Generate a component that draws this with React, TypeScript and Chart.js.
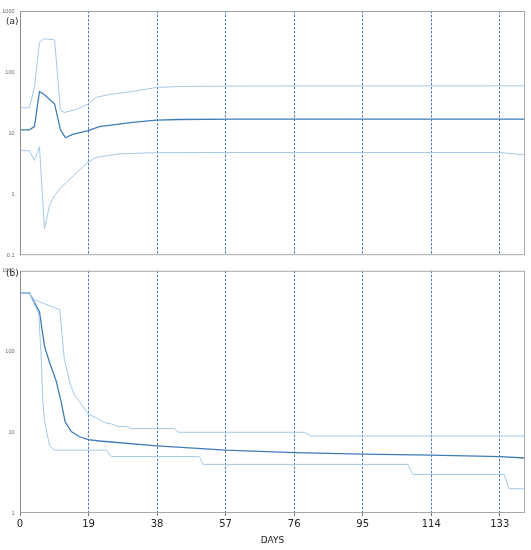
import React, { useEffect, useRef } from "react";
import { Chart, registerables } from "chart.js";

Chart.register(...registerables);

// ---------- data ----------
const xTickValues = [0, 19, 38, 57, 76, 95, 114, 133];
const xMax = 140;
const yTicksA = [0.1, 1, 10, 100, 1000];
const yTicksB = [1, 10, 100, 1000];
const xTitle = "DAYS";
const panelLabels = ["(a)", "(b)"];

// panel (a)
const upperADays = [0, 2.6, 4.0, 5.4, 6.8, 9.6, 11.2, 12.3, 15.6, 18.9, 21.1, 25, 31.2, 37.8, 44.2, 60, 140];
const upperAValues = [26, 26, 56, 308, 352, 335, 23.6, 21.7, 24.5, 30, 38.6, 43, 48, 56, 58, 59, 59.5];

const medianADays = [0, 2.6, 4.0, 5.4, 6.8, 9.6, 11.2, 12.6, 14.6, 18.9, 22, 31.2, 37.8, 44.2, 60, 140];
const medianAValues = [11.3, 11.3, 12.8, 48, 42.5, 30, 11.3, 8.4, 9.5, 11, 12.8, 15, 16.3, 16.7, 16.9, 16.9];

const lowerADays = [0, 2.6, 4.0, 5.4, 6.8, 8.2, 9.6, 11.2, 12.8, 15.6, 18.9, 21.1, 27.4, 37.8, 60, 133, 140];
const lowerAValues = [5.15, 5.15, 3.56, 5.97, 0.27, 0.655, 0.95, 1.24, 1.55, 2.23, 3.35, 4.0, 4.56, 4.79, 4.8, 4.8, 4.4];

// panel (b)
const upperBDays = [0, 2.6, 4.0, 11.0, 12.3, 13.9, 15.1, 18.9, 23.0, 23.9, 25.3, 27.1, 29.5, 30.8, 42.9, 43.8, 78.9, 80.6, 140];
const upperBValues = [531, 531, 437, 330, 80, 40, 29, 17, 13.6, 13, 12.7, 11.8, 11.8, 11.1, 11.1, 10, 10, 9, 9];

const medianBDays = [0, 2.6, 5.4, 6.8, 8.2, 10.0, 11.4, 12.5, 14.2, 16.5, 18.9, 22.1, 38, 57, 76, 95, 114, 133, 140];
const medianBValues = [531, 531, 309, 116, 73, 43.6, 23.8, 13.6, 10.2, 8.8, 8.1, 7.8, 6.8, 6.0, 5.6, 5.35, 5.2, 5.0, 4.8];

const lowerBDays = [0, 2.6, 5.2, 5.9, 6.3, 6.8, 8.2, 9.6, 23.9, 25.3, 49.7, 50.8, 107.5, 108.9, 134.2, 135.6, 140];
const lowerBValues = [531, 531, 295, 80, 26, 13.6, 6.76, 6, 6, 5, 5, 4, 4, 3, 3, 2, 2];

// ---------- styles ----------
const medianColor = "#3f7cb9";
const boundColor = "#a3c8e8";
const gridColor = "rgba(55,110,175,0.9)";
const frameColor = "#a8a8a8";
const axisColor = "#8a8a8a";
const fontFamily = "'DejaVu Sans', sans-serif";

function pts(d: number[], v: number[]) {
  return d.map((x, i) => ({ x, y: v[i] }));
}

function makeDatasets(up: any[], med: any[], low: any[]) {
  const base = { pointRadius: 0, tension: 0, fill: false };
  return [
    { ...base, data: up, borderColor: boundColor, borderWidth: 1 },
    { ...base, data: low, borderColor: boundColor, borderWidth: 1 },
    { ...base, data: med, borderColor: medianColor, borderWidth: 1.3 },
  ];
}

function framePlugin(label: string, labelY: number) {
  return {
    id: "frame-" + label,
    afterDraw(chart: any) {
      const { ctx, chartArea } = chart;
      const { left, right, top, bottom } = chartArea;
      ctx.save();
      ctx.lineWidth = 1;
      ctx.strokeStyle = frameColor;
      ctx.strokeRect(left + 0.5, top + 0.5, right - left - 1, bottom - top - 1);
      ctx.strokeStyle = axisColor;
      ctx.beginPath();
      ctx.moveTo(left + 0.5, top);
      ctx.lineTo(left + 0.5, bottom);
      ctx.stroke();
      ctx.fillStyle = "#222";
      ctx.font = "9px " + fontFamily;
      ctx.textBaseline = "middle";
      ctx.textAlign = "left";
      ctx.fillText(label, 6, labelY);
      ctx.restore();
    },
  };
}

function makeOptions(yMin: number, yTicks: number[], showX: boolean, padding: any) {
  return {
    responsive: false,
    maintainAspectRatio: false,
    animation: false,
    events: [],
    layout: { padding },
    plugins: { legend: { display: false }, tooltip: { enabled: false } },
    scales: {
      x: {
        type: "linear",
        min: 0,
        max: xMax,
        afterBuildTicks: (s: any) => {
          s.ticks = xTickValues.map((v) => ({ value: v }));
        },
        afterFit: (s: any) => {
          s.height = showX ? 37 : 0;
        },
        grid: {
          color: (c: any) => (c.tick && c.tick.value === 0 ? "rgba(0,0,0,0)" : gridColor),
          lineWidth: 1,
          drawTicks: showX,
          tickLength: 3,
          tickColor: "#777",
        },
        border: { display: false, dash: [2.5, 1.5] },
        ticks: {
          display: showX,
          padding: 2,
          autoSkip: false,
          maxRotation: 0,
          color: "#222",
          font: { family: fontFamily, size: 10 },
          callback: (v: any) => String(v),
        },
        title: {
          display: showX,
          text: xTitle,
          color: "#222",
          font: { family: fontFamily, size: 9 },
          padding: { top: 0, bottom: 4 },
        },
      },
      y: {
        type: "logarithmic",
        min: yMin,
        max: 1000,
        afterBuildTicks: (s: any) => {
          s.ticks = yTicks.map((v) => ({ value: v }));
        },
        afterFit: (s: any) => {
          s.width = 20;
        },
        grid: { display: false, drawTicks: false, tickLength: 0 },
        border: { display: false },
        ticks: {
          padding: 5.5,
          color: "#666",
          font: { family: "'Liberation Sans', sans-serif", size: 5.5 },
          callback: (v: any) => String(v),
        },
      },
    },
  };
}

export default function App() {
  const refA = useRef<HTMLCanvasElement>(null);
  const refB = useRef<HTMLCanvasElement>(null);

  useEffect(() => {
    const chartA = new Chart(refA.current as HTMLCanvasElement, {
      type: "line",
      data: {
        datasets: makeDatasets(
          pts(upperADays, upperAValues),
          pts(medianADays, medianAValues),
          pts(lowerADays, lowerAValues)
        ),
      } as any,
      options: makeOptions(0.1, yTicksA, false, { top: 11, bottom: 2, left: 0, right: 6 }) as any,
      plugins: [framePlugin(panelLabels[0], 22)],
    });
    const chartB = new Chart(refB.current as HTMLCanvasElement, {
      type: "line",
      data: {
        datasets: makeDatasets(
          pts(upperBDays, upperBValues),
          pts(medianBDays, medianBValues),
          pts(lowerBDays, lowerBValues)
        ),
      } as any,
      options: makeOptions(1, yTicksB, true, { top: 2, bottom: 0, left: 0, right: 6 }) as any,
      plugins: [framePlugin(panelLabels[1], 12)],
    });
    return () => {
      chartA.destroy();
      chartB.destroy();
    };
  }, []);

  return (
    <div style={{ position: "absolute", left: 0, top: 0, width: 531, height: 550, background: "#fff" }}>
      <canvas ref={refA} width={531} height={264} style={{ position: "absolute", left: 0, top: 0 }} />
      <canvas ref={refB} width={531} height={288} style={{ position: "absolute", left: 0, top: 262 }} />
    </div>
  );
}
